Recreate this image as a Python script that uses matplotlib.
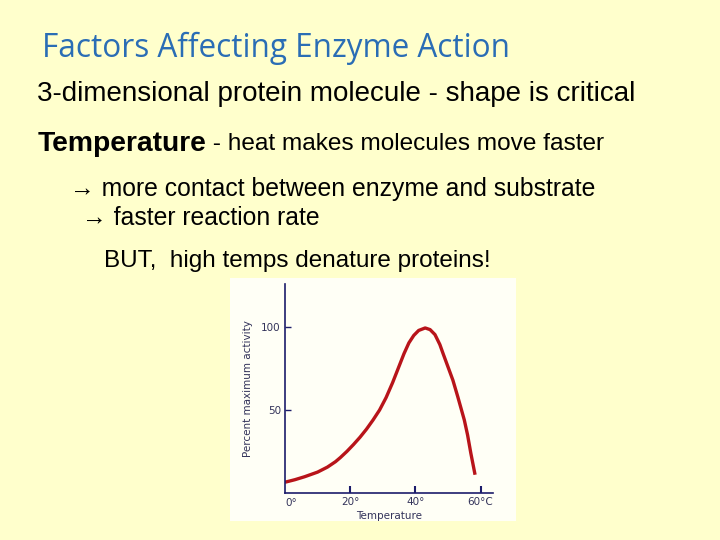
import matplotlib
matplotlib.use("Agg")
import matplotlib.pyplot as plt
from matplotlib.patches import Rectangle

# curve
temps = [0, 3, 6, 10, 13, 15.5, 17, 19, 21, 23, 25, 27, 29, 31, 33, 35, 36.5,
         38, 39.5, 41, 43, 44.5, 46, 47.5, 48.5, 50, 51.5, 53, 54, 55, 56, 57, 58.3]
activity = [6.5, 8, 9.8, 12.6, 15.6, 18.9, 21.4, 25.1, 29.2, 33.6, 38.5, 44, 50, 57.5, 66.5, 76.5, 84,
            90.5, 95, 98, 99.5, 98.5, 95.5, 89.5, 84, 76, 68, 58, 51, 44, 35, 24, 11]
xticks = [0, 20, 40, 60]
xtick_labels = ["0°", "20°", "40°", "60°C"]
yticks = [50, 100]
ytick_labels = ["50", "100"]

bg = "#FFFFCC"
navy = "#1c1c6b"
W, H = 720, 540

fig = plt.figure(figsize=(7.2, 5.4), dpi=100, facecolor=bg)

def px(x, y):
    return x / W, 1 - y / H

body = ["Liberation Sans", "DejaVu Sans"]
fig.text(*px(42, 48), "Factors Affecting Enzyme Action", fontsize=22.7,
         family=["Open Sans", "DejaVu Sans"], color="#2a6db5", va="center")
fig.text(*px(37, 94), "3-dimensional protein molecule - shape is critical", fontsize=20,
         family=body, color="black", va="center")
fig.text(*px(38, 144), "Temperature", fontsize=20.3, family=body, weight="bold",
         color="black", va="center")
fig.text(*px(206, 144), " - heat makes molecules move faster", fontsize=17.6,
         family=body, color="black", va="center")
fig.text(*px(70, 189), "→ more contact between enzyme and substrate", fontsize=17.8,
         family=body, color="black", va="center")
fig.text(*px(82, 218), "→ faster reaction rate", fontsize=17.8,
         family=body, color="black", va="center")
fig.text(*px(104, 261), "BUT,  high temps denature proteins!", fontsize=17.5,
         family=body, color="black", va="center")

# white panel behind the chart
fig.patches.append(Rectangle(px(230, 521), (516 - 230) / W, (521 - 278) / H,
                             transform=fig.transFigure, facecolor="#FFFFF6",
                             edgecolor="none", zorder=0))

ax = fig.add_axes([285 / W, 1 - 493 / H, (493 - 285) / W, (493 - 284) / H])
ax.set_zorder(2)
ax.set_facecolor("none")
ax.plot(temps, activity, color="#b8141a", lw=2.4, solid_capstyle="butt",
        solid_joinstyle="round")
ax.set_xlim(0, 63.8)
ax.set_ylim(0, 126)
for s in ["top", "right"]:
    ax.spines[s].set_visible(False)
for s in ["left", "bottom"]:
    ax.spines[s].set_color(navy)
    ax.spines[s].set_linewidth(1.2)
ax.set_xticks(xticks[1:])
ax.set_xticklabels(xtick_labels[1:])
ax.set_yticks(yticks)
ax.set_yticklabels(ytick_labels)
ax.tick_params(axis="x", direction="in", length=5, width=1.5, color=navy,
               labelsize=7.5, labelcolor="#33335a", pad=3)
ax.tick_params(axis="y", direction="in", length=4, width=1, color=navy,
               labelsize=7.5, labelcolor="#33335a", pad=3)
ax.text(0, -3, "0°", transform=ax.transData, ha="left", va="top",
        fontsize=7.5, color="#33335a")
ax.set_xlabel("Temperature", fontsize=7.5, color="#33335a", labelpad=3)
ax.set_ylabel("Percent maximum activity", fontsize=7.5, color="#33335a", labelpad=6)

fig.savefig("out.png", dpi=100, facecolor=bg)
